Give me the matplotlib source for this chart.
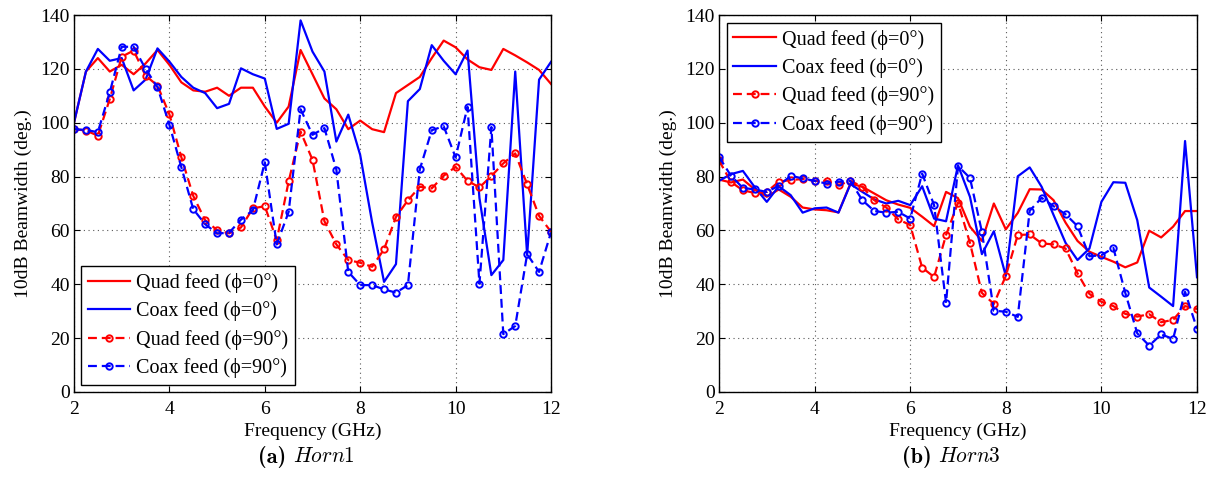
import matplotlib
matplotlib.use("Agg")
import matplotlib.pyplot as plt

plt.rcParams['font.family'] = ['Liberation Serif', 'DejaVu Serif']
plt.rcParams['mathtext.fontset'] = 'cm'
plt.rcParams['axes.unicode_minus'] = False

freq = [2.0, 2.25, 2.5, 2.75, 3.0, 3.25, 3.5, 3.75, 4.0, 4.25, 4.5, 4.75, 5.0, 5.25,
        5.5, 5.75, 6.0, 6.25, 6.5, 6.75, 7.0, 7.25, 7.5, 7.75, 8.0, 8.25, 8.5, 8.75,
        9.0, 9.25, 9.5, 9.75, 10.0, 10.25, 10.5, 10.75, 11.0, 11.25, 11.5, 11.75, 12.0]

# Horn1
h1_quad0 = [100, 119, 124, 119, 121.5, 118, 122, 127, 121.5, 115, 112, 111.5, 113, 110,
            113, 113, 106, 100, 106, 127, 118, 109, 105, 97.6, 100.8, 97.6, 96.5, 111,
            114, 117, 124, 130.5, 128, 123.5, 120.6, 119.6, 127.4, 125, 122.4, 119.6, 114.4]
h1_coax0 = [100, 119, 127.4, 123, 124, 112, 116, 127.6, 122.7, 117, 113, 111, 105.4, 107,
            120.2, 118, 116.4, 97.7, 99.6, 138, 126.4, 119, 93, 103, 88, 63, 40.9, 47.5,
            108, 112.5, 128.8, 123, 118, 126.8, 72, 43.4, 49, 119, 50.8, 116, 122.6]
h1_quad90 = [97.6, 97.1, 95.2, 108.8, 124.5, 126.8, 117.5, 113.8, 103.1, 87.2, 72.8, 63.8,
             60.1, 58.9, 61.1, 68.2, 69.0, 56.4, 78.2, 96.7, 86.2, 63.4, 54.8, 49, 48, 46.5,
             53, 65, 71.2, 76.2, 75.6, 80.3, 83.6, 78.4, 76, 80.2, 84.9, 88.6, 77.1, 65.4, 59.5]
h1_coax90 = [97.6, 97.3, 96.5, 111.3, 128.2, 128.2, 120, 113.2, 99.2, 83.5, 67.9, 62.3,
             58.9, 59.1, 64, 67.5, 85.3, 54.8, 66.9, 105, 95.5, 98, 82.6, 44.6, 39.7, 39.7,
             38.1, 36.9, 39.7, 82.7, 97.2, 98.7, 87.1, 105.9, 40.2, 98.4, 21.5, 24.5, 51.2,
             44.6, 59.3]

# Horn3
h3_quad0 = [78.9, 77.8, 78.9, 75.2, 72.5, 75.2, 72.5, 68.5, 67.8, 67.5, 66.7, 77.4, 76.2,
            73.7, 71.2, 69.6, 68.4, 65.1, 61.6, 74.3, 72, 61.4, 56.1, 70, 60.4, 66.5, 75.3,
            75.2, 71.2, 62.9, 56.1, 52.1, 50.2, 48.4, 46.3, 48.1, 59.9, 57.4, 61.4, 67.2, 67.2]
h3_coax0 = [78.4, 80.9, 82.1, 76, 70.6, 76.4, 73.1, 66.6, 68.2, 68.5, 66.6, 77.2, 74.3,
            71.5, 70, 71, 69.4, 76.4, 64.4, 63.4, 84.2, 72.5, 51.2, 59.7, 43.1, 80.1, 83.4,
            76.2, 65.7, 55.4, 49, 53.3, 70.6, 77.9, 77.7, 63.8, 38.8, 35.4, 31.9, 93.2, 42.6]
h3_quad90 = [86, 78, 74.9, 73.9, 74.3, 78.1, 78.7, 79.1, 78.4, 78.4, 76.8, 78.4, 76.2, 71.2,
             68.5, 64.1, 62.0, 46.2, 42.7, 58.3, 70.3, 55.4, 36.8, 32.7, 43.1, 58.3, 58.5,
             55.2, 54.8, 53.3, 44.1, 36.4, 33.5, 31.9, 29.0, 28.0, 28.9, 25.9, 26.8, 31.9, 30.8]
h3_coax90 = [87.3, 80.3, 75.8, 75.2, 74.3, 76.6, 80.3, 79.3, 78.4, 77.4, 78.1, 78.3, 71.2,
             67.2, 66.6, 66.9, 64.4, 81.1, 69.4, 33.1, 83.9, 79.5, 59.5, 30.2, 29.8, 27.9,
             67.3, 72.1, 69.0, 66.0, 61.6, 50.4, 50.8, 53.5, 36.8, 21.8, 17.2, 21.4, 19.7,
             37.2, 23.5]

labels = ['Quad feed (\u03d5=0\u00b0)', 'Coax feed (\u03d5=0\u00b0)',
          'Quad feed (\u03d5=90\u00b0)', 'Coax feed (\u03d5=90\u00b0)']
xticks = [2, 4, 6, 8, 10, 12]
yticks = [0, 20, 40, 60, 80, 100, 120, 140]
cap_tags = ['(a)', '(b)']
cap_names = [r'$Horn1$', r'$Horn3$']

fig = plt.figure(figsize=(12.16, 4.83), dpi=100)
ax1 = fig.add_axes([74 / 1216, 1 - 392 / 483, 477 / 1216, 377 / 483])
ax2 = fig.add_axes([719 / 1216, 1 - 392 / 483, 478 / 1216, 377 / 483])

RED = (1, 0, 0)
BLUE = (0, 0, 1)
LW = 1.6
DASH = (4.0, 2.2)
FS = 14


def draw(ax, q0, c0, q90, c90):
    ax.plot(freq, q0, color=RED, lw=LW, label=labels[0])
    ax.plot(freq, c0, color=BLUE, lw=LW, label=labels[1])
    ax.plot(freq, q90, color=RED, lw=LW, ls=(0, DASH), marker='o', ms=4.6, mew=1.4,
            mfc='none', label=labels[2])
    ax.plot(freq, c90, color=BLUE, lw=LW, ls=(0, DASH), marker='o', ms=4.6, mew=1.4,
            mfc='none', label=labels[3])
    ax.set_xlim(2, 12)
    ax.set_ylim(0, 140)
    ax.set_xticks(xticks)
    ax.set_yticks(yticks)
    ax.grid(True, color='0.35', linestyle=(0, (1, 3.2)), lw=0.8)
    ax.tick_params(direction='in', top=True, right=True, length=4, width=0.8,
                   labelsize=FS)
    ax.tick_params(axis='x', pad=6.5)
    ax.tick_params(axis='y', pad=3)
    for s in ax.spines.values():
        s.set_linewidth(1.0)
        s.set_color('black')
    ax.set_xlabel('Frequency (GHz)', fontsize=FS, labelpad=3.5)
    ax.set_ylabel('10dB Beamwidth (deg.)', fontsize=FS, labelpad=6)


draw(ax1, h1_quad0, h1_coax0, h1_quad90, h1_coax90)
draw(ax2, h3_quad0, h3_coax0, h3_quad90, h3_coax90)

legkw = dict(fontsize=14.5, fancybox=False, framealpha=1, edgecolor='black',
             borderaxespad=0, handlelength=2.1, handletextpad=0.3,
             labelspacing=0.42, borderpad=0.34)
leg1 = ax1.legend(loc='lower left', bbox_to_anchor=(0.014, 0.0186), **legkw)
leg2 = ax2.legend(loc='upper left', bbox_to_anchor=(0.016, 0.9796), **legkw)
for lg in (leg1, leg2):
    lg.get_frame().set_linewidth(1.0)

# captions below each panel
for i, cx in enumerate([286, 931.5]):
    fig.text(cx / 1216, 1 - 457 / 483, cap_tags[i], ha='right', va='center',
             fontsize=16, family='cmb10')
    fig.text((cx + 7) / 1216, 1 - 457 / 483, cap_names[i], ha='left', va='center',
             fontsize=15.5)

fig.savefig('out.png', dpi=100)
